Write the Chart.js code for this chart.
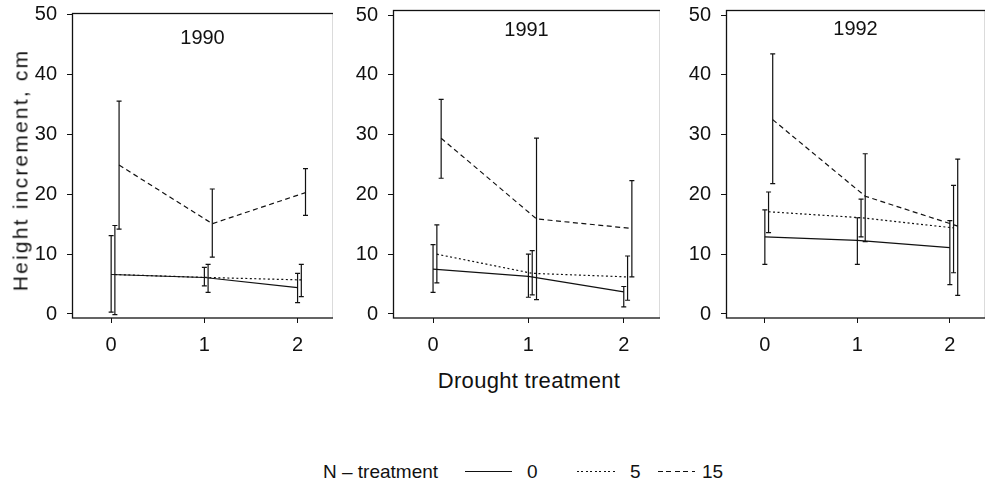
<!DOCTYPE html>
<html>
<head>
<meta charset="utf-8">
<script src="https://cdn.jsdelivr.net/npm/chart.js@4.4.1/dist/chart.umd.min.js"></script>
<style>
  body { margin: 0; background: #fff; }
  #page { position: relative; width: 985px; height: 487px; overflow: hidden; font-family: "Liberation Sans", Arial, sans-serif; color: #111; }
  canvas { position: absolute; top: 0; }
  .txt { position: absolute; white-space: nowrap; }
  .sample { position: absolute; height: 1.3px; }
</style>
</head>
<body>
<div id="page">
  <canvas id="p0" width="311" height="360" style="left:22px"></canvas>
  <canvas id="p1" width="317" height="360" style="left:343px"></canvas>
  <canvas id="p2" width="309" height="360" style="left:676px"></canvas>

  <div class="txt" id="ytitle" style="left:20px; top:170px; font-size:21px; line-height:21px; letter-spacing:2.2px; transform: translate(-50%, -50%) rotate(-90deg);">Height increment, cm</div>
  <div class="txt" style="left:529px; top:370px; font-size:22px; line-height:22px; letter-spacing:0.3px; transform: translateX(-50%);">Drought treatment</div>

  <div class="txt" id="legTitle" style="left:323px; top:462px; font-size:19px; line-height:19px;">N – treatment</div>
  <div class="sample" id="s0" style="left:465px; top:471px; width:47px;"></div>
  <div class="txt" id="l0" style="left:527px; top:462px; font-size:19px; line-height:19px;"></div>
  <div class="sample" id="s1" style="left:577px; top:471px; width:38px;"></div>
  <div class="txt" id="l1" style="left:630px; top:462px; font-size:19px; line-height:19px;"></div>
  <div class="sample" id="s2" style="left:658px; top:471px; width:37px;"></div>
  <div class="txt" id="l2" style="left:702px; top:462px; font-size:19px; line-height:19px;"></div>
</div>
<script>
// data
const years = ['1990', '1991', '1992'];
const drought = [0, 1, 2];
const nLevels = ['0', '5', '15'];
const yTicks = [0, 10, 20, 30, 40, 50];

// rows: N 0, N 5, N 15; columns: drought 0, 1, 2
const mean1990 = [[6.6, 6.1, 4.4], [6.6, 6.1, 5.7], [24.9, 15.1, 20.3]];
const low1990  = [[0.3, 4.7, 1.9], [-0.1, 3.6, 2.9], [14.2, 9.5, 16.5]];
const high1990 = [[13.1, 7.8, 6.8], [14.8, 8.3, 8.3], [35.6, 20.9, 24.3]];

const mean1991 = [[7.5, 6.3, 3.7], [10.0, 6.8, 6.2], [29.4, 15.9, 14.3]];
const low1991  = [[3.6, 2.8, 1.2], [5.2, 3.2, 2.3], [22.7, 2.4, 6.2]];
const high1991 = [[11.6, 10.0, 4.6], [14.9, 10.6, 9.7], [35.9, 29.4, 22.3]];

const mean1992 = [[12.9, 12.3, 11.1], [17.1, 16.1, 14.4], [32.5, 19.7, 14.7]];
const low1992  = [[8.3, 8.3, 4.9], [13.6, 12.9, 6.9], [21.8, 12.1, 3.1]];
const high1992 = [[17.4, 16.1, 15.6], [20.4, 19.2, 21.5], [43.5, 26.8, 25.9]];

const INK = '#111';
const FONT = "'Liberation Sans', Arial, sans-serif";
const dashes = [[], [2, 2.5], [5, 3.5]];
const xShift = [0, 0.04, 0.085];

const panels = [
  { id: 'p0', top: 13, yMax: 50.33, titleY: 38.5, mean: mean1990, low: low1990, high: high1990 },
  { id: 'p1', top: 10, yMax: 50.84, titleY: 30, mean: mean1991, low: low1991, high: high1991 },
  { id: 'p2', top: 10, yMax: 50.84, titleY: 29, mean: mean1992, low: low1992, high: high1992 }
];

const errorBars = {
  id: 'errorBars',
  afterDatasetsDraw(chart) {
    const ctx = chart.ctx;
    const xs = chart.scales.x, ys = chart.scales.y;
    ctx.save();
    ctx.strokeStyle = INK;
    ctx.lineWidth = 1.2;
    ctx.setLineDash([]);
    chart.data.datasets.forEach(ds => {
      ds.data.forEach((pt, j) => {
        const x = xs.getPixelForValue(pt.x);
        const y1 = ys.getPixelForValue(ds.errLow[j]);
        const y2 = ys.getPixelForValue(ds.errHigh[j]);
        ctx.beginPath();
        ctx.moveTo(x, y1); ctx.lineTo(x, y2);
        ctx.moveTo(x - 2.5, y1); ctx.lineTo(x + 2.5, y1);
        ctx.moveTo(x - 2.5, y2); ctx.lineTo(x + 2.5, y2);
        ctx.stroke();
      });
    });
    ctx.restore();
  }
};

const frameAndTitle = {
  id: 'frameAndTitle',
  afterDraw(chart, args, opts) {
    const { left, top, width, height } = chart.chartArea;
    const ctx = chart.ctx;
    ctx.save();
    ctx.strokeStyle = INK;
    ctx.lineWidth = 1.3;
    ctx.strokeRect(left + 0.5, top + 0.5, width, height - 0.5);
    ctx.fillStyle = INK;
    ctx.font = '20px ' + FONT;
    ctx.textAlign = 'center';
    ctx.textBaseline = 'middle';
    ctx.fillText(opts.text, left + width / 2, opts.y);
    ctx.restore();
  }
};

function makePanel(p, k) {
  const datasets = nLevels.map((n, s) => ({
    label: n,
    data: drought.map((d, j) => ({ x: d + xShift[s], y: p.mean[s][j] })),
    errLow: p.low[s],
    errHigh: p.high[s],
    borderColor: INK,
    borderWidth: 1.2,
    borderDash: dashes[s],
    pointRadius: 0,
    fill: false,
    tension: 0
  }));

  new Chart(document.getElementById(p.id), {
    type: 'line',
    data: { datasets: datasets },
    plugins: [errorBars, frameAndTitle],
    options: {
      responsive: false,
      animation: false,
      layout: { padding: { top: p.top, left: 0, right: 0, bottom: 0 } },
      plugins: {
        legend: { display: false },
        tooltip: { enabled: false },
        frameAndTitle: { text: years[k], y: p.titleY }
      },
      scales: {
        x: {
          type: 'linear',
          min: -0.42,
          max: 2.38,
          afterBuildTicks: s => { s.ticks = drought.map(v => ({ value: v })); },
          afterFit: s => { s.height = 42; s.paddingLeft = 0; s.paddingRight = 0; },
          border: { display: false },
          grid: { drawOnChartArea: false, drawTicks: true, tickLength: 5, color: INK, lineWidth: 1 },
          ticks: { color: INK, font: { family: FONT, size: 20 }, padding: 10, maxRotation: 0, autoSkip: false }
        },
        y: {
          type: 'linear',
          min: -0.67,
          max: p.yMax,
          afterBuildTicks: s => { s.ticks = yTicks.map(v => ({ value: v })); },
          afterFit: s => { s.width = 50; s.paddingTop = 0; s.paddingBottom = 0; },
          border: { display: false },
          grid: { drawOnChartArea: false, drawTicks: true, tickLength: 5, color: INK, lineWidth: 1 },
          ticks: { color: INK, font: { family: FONT, size: 20 }, padding: 10, autoSkip: false }
        }
      }
    }
  });
}

panels.forEach(makePanel);

// legend: line samples and labels
const sampleStyles = [
  INK,
  'repeating-linear-gradient(to right, ' + INK + ' 0 2px, transparent 2px 4.5px)',
  'repeating-linear-gradient(to right, ' + INK + ' 0 5px, transparent 5px 8.5px)'
];
nLevels.forEach((n, s) => {
  document.getElementById('s' + s).style.background = sampleStyles[s];
  document.getElementById('l' + s).textContent = n;
});
</script>
</body>
</html>
